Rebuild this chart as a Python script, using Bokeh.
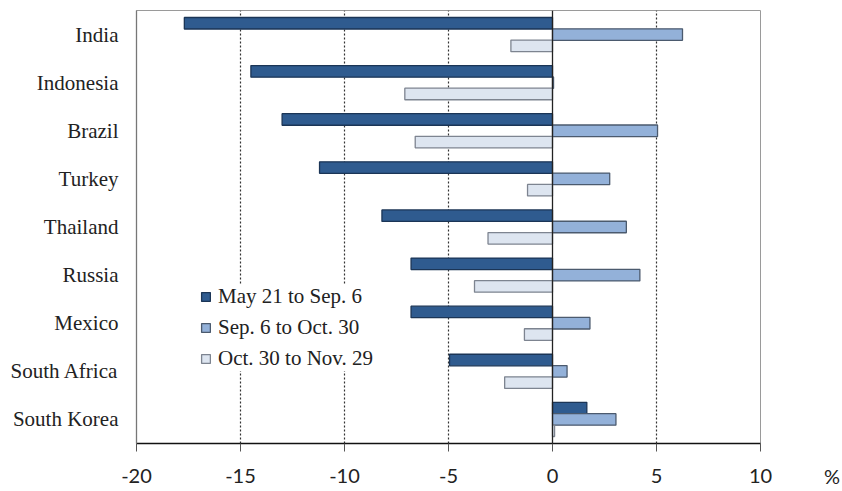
from bokeh.plotting import figure
from bokeh.models import (Range1d, FactorRange, ColumnDataSource, FixedTicker, Span,
                          Legend, LegendItem, Div)
from bokeh.layouts import row
from bokeh.transform import dodge
from bokeh.embed import file_html
from bokeh.resources import INLINE

countries = ["India", "Indonesia", "Brazil", "Turkey", "Thailand", "Russia",
             "Mexico", "South Africa", "South Korea"]
may_sep = [-17.7, -14.5, -13.0, -11.2, -8.2, -6.8, -6.8, -4.95, 1.65]
sep_oct = [6.25, 0.05, 5.05, 2.75, 3.55, 4.2, 1.8, 0.7, 3.05]
oct_nov = [-2.0, -7.1, -6.6, -1.2, -3.1, -3.75, -1.35, -2.3, 0.1]
series_names = ["May 21 to Sep. 6", "Sep. 6 to Oct. 30", "Oct. 30 to Nov. 29"]
x_ticks = [-20, -15, -10, -5, 0, 5, 10]
unit_label = "%"

src = ColumnDataSource(dict(country=countries, a=may_sep, b=sep_oct, c=oct_nov))

p = figure(output_backend="svg", toolbar_location=None,
           frame_width=624, frame_height=433,
           min_border_left=136, min_border_top=10, min_border_right=62, min_border_bottom=46,
           x_range=Range1d(-20, 10),
           y_range=FactorRange(*list(reversed(countries)), range_padding=0))

fills = ["#2f5b8f", "#93b1d9", "#dde5f0"]
lines = ["#1b3556", "#4b5a6e", "#7d8490"]
offs = [0.235, 0.0, -0.235]
renderers = []
for col, fc, lc, off in zip(["a", "b", "c"], fills, lines, offs):
    r = p.hbar(y=dodge("country", off, range=p.y_range), left=0, right=col,
               height=0.24, source=src, fill_color=fc, line_color=lc, line_width=1.3)
    renderers.append(r)

# grid
p.ygrid.grid_line_color = None
p.xgrid.ticker = FixedTicker(ticks=[t for t in x_ticks if t != 0])
p.xgrid.grid_line_color = "#333333"
p.xgrid.grid_line_dash = "2 2"
p.xgrid.grid_line_width = 1.2
p.add_layout(Span(location=0, dimension="height", line_color="#222222", line_width=1.3))

p.outline_line_color = "#9a9a9a"
p.background_fill_color = "white"

# axes
p.xaxis.ticker = FixedTicker(ticks=x_ticks)
p.xaxis.major_label_overrides = {t: str(t) for t in x_ticks}
p.xaxis.axis_line_color = "#111111"
p.xaxis.axis_line_width = 1.5
p.xaxis.major_tick_out = 8
p.xaxis.major_tick_in = 0
p.xaxis.major_tick_line_color = "#555555"
p.xaxis.minor_tick_line_color = None
p.xaxis.major_label_standoff = 17
p.xaxis.major_label_text_font = "Lato"
p.xaxis.major_label_text_font_size = "20px"
p.xaxis.major_label_text_color = "#222222"

p.yaxis.axis_line_color = "#777777"
p.yaxis.axis_line_width = 1.3
p.yaxis.major_tick_line_color = None
p.yaxis.minor_tick_line_color = None
p.yaxis.major_label_standoff = 12
p.yaxis.major_label_text_font = "Liberation Serif"
p.yaxis.major_label_text_font_size = "21px"
p.yaxis.major_label_text_color = "#222222"

legend = Legend(items=[LegendItem(label=n, renderers=[r]) for n, r in zip(series_names, renderers)],
                location=(64, 72), padding=4, spacing=6, glyph_width=11, glyph_height=11,
                label_text_font="Liberation Serif", label_text_font_size="21px",
                label_text_color="#222222", label_standoff=7,
                border_line_color=None, background_fill_color="white",
                background_fill_alpha=1.0)
p.add_layout(legend)

# unit label to the right of the x axis
unit = Div(text='<div style="padding-top:464px;padding-left:2px;font-family:Lato;'
                'font-size:20px;line-height:24px;color:#222222;">' + unit_label + '</div>',
           width=20, height=489, margin=0)

layout = row(p, unit, spacing=0)
open("out.html", "w").write(file_html(layout, INLINE))
